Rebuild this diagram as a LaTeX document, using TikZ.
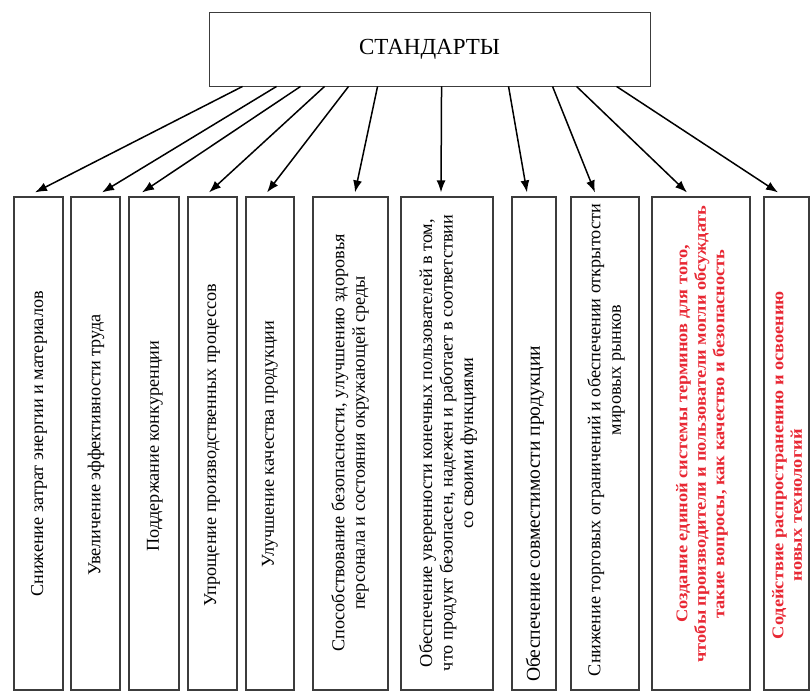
\documentclass[tikz,border=0pt]{standalone}
\usepackage{fontspec}
\setmainfont{Liberation Serif}
\usetikzlibrary{arrows.meta,calc}

\definecolor{boxline}{RGB}{60,60,60}
\definecolor{redtext}{RGB}{232,40,52}

\tikzset{
  topbox/.style={draw=boxline, line width=0.9pt, minimum width=441pt, minimum height=74pt,
    inner sep=0pt, font=\fontsize{23}{26}\selectfont},
  goalbox/.style={draw=boxline, line width=1.1pt, inner sep=0pt},
  goaltext/.style={rotate=90, align=center, inner sep=0pt,
    font=\fontsize{18.2}{20.5}\selectfont},
  redgoal/.style={goaltext, text=redtext, xscale=1.12,
    font=\fontsize{16.4}{18.5}\selectfont\bfseries},
  link/.style={line width=1.5pt, -{Latex[length=12pt,width=9pt]}}
}

\begin{document}
\begin{tikzpicture}[x=1pt, y=-1pt]
\useasboundingbox (0,0) rectangle (811,692);

% central box
\node[topbox] (std) at (429.5,49) {СТАНДАРТЫ};

% goal boxes (frames)
\node[goalbox, minimum width=49pt, minimum height=493pt] (b1) at (38.5,443.5) {};
\node[goalbox, minimum width=49pt, minimum height=493pt] (b2) at (95.5,443.5) {};
\node[goalbox, minimum width=50pt, minimum height=493pt] (b3) at (154,443.5) {};
\node[goalbox, minimum width=49pt, minimum height=493pt] (b4) at (212.5,443.5) {};
\node[goalbox, minimum width=48pt, minimum height=493pt] (b5) at (270,443.5) {};
\node[goalbox, minimum width=75pt, minimum height=493pt] (b6) at (350.5,443.5) {};
\node[goalbox, minimum width=92pt, minimum height=493pt] (b7) at (447,443.5) {};
\node[goalbox, minimum width=44pt, minimum height=493pt] (b8) at (534,443.5) {};
\node[goalbox, minimum width=68pt, minimum height=493pt] (b9) at (605,443.5) {};
\node[goalbox, minimum width=98pt, minimum height=493pt] (b10) at (701,443.5) {};
\node[goalbox, minimum width=45pt, minimum height=493pt] (b11) at (786.5,443.5) {};

% rotated labels
\node[goaltext] (t1) at (39,444) {Снижение затрат энергии и материалов};
\node[goaltext] (t2) at (96,445) {Увеличение эффективности труда};
\node[goaltext] (t3) at (155,446) {Поддержание конкуренции};
\node[goaltext] (t4) at (212,445) {Упрощение производственных процессов};
\node[goaltext] (t5) at (270,444) {Улучшение качества продукции};
\node[goaltext] (t6) at (350,443) {Способствование безопасности, улучшению здоровья\\
  персонала и состояния окружающей среды};
\node[goaltext] (t7) at (448,443) {Обеспечение уверенности конечных пользователей в том,\\
  что продукт безопасен, надежен и работает в соответствии\\ со своими функциями};
\node[goaltext, font=\fontsize{19.6}{21}\selectfont] (t8) at (535,514) {Обеспечение совместимости продукции};
\node[goaltext] (t9) at (606,440) {Снижение торговых ограничений и обеспечении открытости\\
  \hspace*{140pt}мировых рынков};
\node[redgoal] (t10) at (702,434) {Создание единой системы терминов для того,\\
  чтобы производители и пользователи могли обсуждать\\ такие вопросы, как качество и безопасность};
\node[redgoal] (t11) at (787,465) {Содействие распространению и освоению\\ новых технологий\hspace*{72pt}};

% connectors from the central box to each goal
\draw[link] ($(std.south west)+(34,0)$)  -- ($(b1.north)+(-3.5,-4)$);
\draw[link] ($(std.south west)+(68,0)$)  -- ($(b2.north)+(6.5,-4)$);
\draw[link] ($(std.south west)+(92,0)$)  -- ($(b3.north)+(-12,-4)$);
\draw[link] ($(std.south west)+(116,0)$) -- ($(b4.north)+(-3.5,-4)$);
\draw[link] ($(std.south west)+(140,0)$) -- ($(b5.north)+(-3,-4)$);
\draw[link] ($(std.south west)+(169,0)$) -- ($(b6.north)+(4.5,-4)$);
\draw[link] ($(std.south west)+(233,0)$) -- ($(b7.north)+(-6,-4)$);
\draw[link] ($(std.south west)+(300,0)$) -- ($(b8.north)+(-7,-4)$);
\draw[link] ($(std.south west)+(344,0)$) -- ($(b9.north)+(-10,-4)$);
\draw[link] ($(std.south west)+(368,0)$) -- ($(b10.north)+(-14,-4)$);
\draw[link] ($(std.south west)+(408,0)$) -- ($(b11.north)+(-8.5,-4)$);
\end{tikzpicture}
\end{document}
